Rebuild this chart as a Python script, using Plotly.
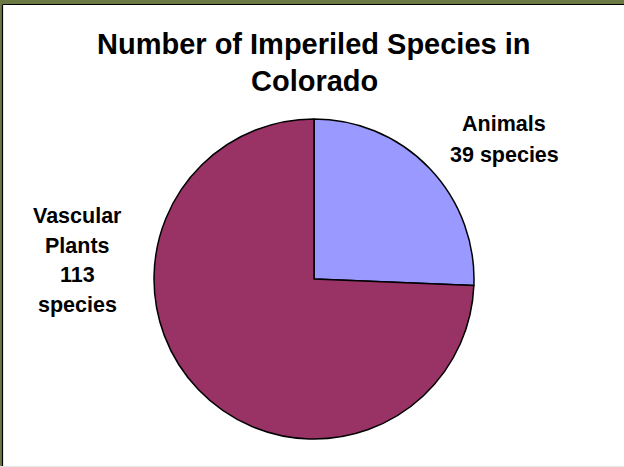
import plotly.graph_objects as go

W, H = 624, 467

categories = ["Animals", "Vascular Plants"]
values = [39, 113]
colors = ["#9999FF", "#993366"]
title_lines = ["Number of Imperiled Species in", "Colorado"]
animal_label_lines = ["Animals", "39 species"]
plant_label_lines = ["Vascular", "Plants", "113", "species"]


def px(x):
    return x / W


def py(y):
    return 1 - y / H


fig = go.Figure()
fig.add_trace(go.Pie(
    labels=categories,
    values=values,
    marker=dict(colors=colors, line=dict(color="black", width=1.5)),
    sort=False,
    direction="clockwise",
    rotation=0,
    textinfo="none",
    hoverinfo="label+value",
    showlegend=False,
    domain=dict(x=[px(154), px(474)], y=[py(439), py(119)]),
))

annotations = []
font_family = "Liberation Sans, Arial, sans-serif"
for i, t in enumerate(title_lines):
    annotations.append(dict(text=f"<b>{t}</b>", x=px(314), y=py(44 + i * 37),
                            xref="paper", yref="paper", showarrow=False,
                            xanchor="center", yanchor="middle",
                            font=dict(family=font_family, size=29, color="black")))
for i, t in enumerate(animal_label_lines):
    annotations.append(dict(text=f"<b>{t}</b>", x=px(504), y=py(124 + i * 31),
                            xref="paper", yref="paper", showarrow=False,
                            xanchor="center", yanchor="middle",
                            font=dict(family=font_family, size=21.5, color="black")))
for i, t in enumerate(plant_label_lines):
    annotations.append(dict(text=f"<b>{t}</b>", x=px(77), y=py(216 + i * 29.5),
                            xref="paper", yref="paper", showarrow=False,
                            xanchor="center", yanchor="middle",
                            font=dict(family=font_family, size=21.5, color="black")))

olive = "#6A7A42"
shapes = [
    dict(type="rect", xref="paper", yref="paper", x0=0, x1=1, y0=py(4), y1=1,
         fillcolor=olive, line=dict(width=0), layer="above"),
    dict(type="rect", xref="paper", yref="paper", x0=0, x1=px(2), y0=0, y1=1,
         fillcolor=olive, line=dict(width=0), layer="above"),
    dict(type="line", xref="paper", yref="paper", x0=px(2.5), x1=1, y0=py(4.5), y1=py(4.5),
         line=dict(color="black", width=1.2), layer="above"),
    dict(type="line", xref="paper", yref="paper", x0=px(2.5), x1=px(2.5), y0=0, y1=py(4.5),
         line=dict(color="black", width=1.2), layer="above"),
    dict(type="line", xref="paper", yref="paper", x0=0, x1=1, y0=py(466.5), y1=py(466.5),
         line=dict(color="#E6E6E6", width=1), layer="above"),
]

fig.update_layout(
    width=W, height=H,
    margin=dict(l=0, r=0, t=0, b=0),
    paper_bgcolor="white",
    plot_bgcolor="white",
    annotations=annotations,
    shapes=shapes,
)

fig.write_html("out.html", config={"displayModeBar": False},
               post_script="document.body.style.margin='0';document.body.style.overflow='hidden';")
